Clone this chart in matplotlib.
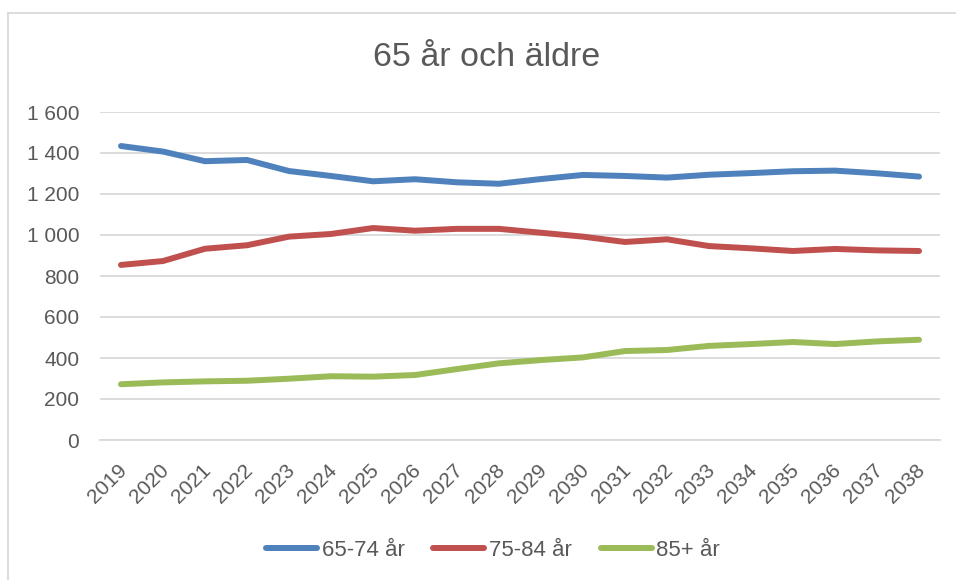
import matplotlib
matplotlib.use("Agg")
import matplotlib.pyplot as plt
from matplotlib.lines import Line2D
from matplotlib.ticker import FuncFormatter
import matplotlib.transforms as mtransforms

plt.rcParams['font.family'] = ['Liberation Sans', 'DejaVu Sans']

years = [str(y) for y in range(2019, 2039)]
s_65_74 = [1434, 1407, 1360, 1366, 1312, 1288, 1262, 1272, 1257, 1250,
           1273, 1293, 1288, 1280, 1294, 1302, 1311, 1314, 1301, 1285]
s_75_84 = [854, 873, 933, 950, 992, 1005, 1034, 1021, 1030, 1030,
           1011, 992, 966, 979, 946, 935, 922, 932, 925, 922]
s_85 = [272, 281, 286, 289, 299, 311, 309, 317, 346, 374,
        390, 403, 434, 439, 459, 468, 478, 468, 481, 489]
labels = ["65-74 år", "75-84 år", "85+ år"]
title = "65 år och äldre"

colors = ["#4F81BD", "#C0504D", "#9BBB59"]
text_color = "#595959"

fig = plt.figure(figsize=(9.56, 5.8), dpi=100)
ax = fig.add_axes([100/956, 1-440/580, 840/956, 328/580])

x = list(range(len(years)))
for vals, c, lab in zip([s_65_74, s_75_84, s_85], colors, labels):
    ax.plot(x, vals, color=c, lw=4.3, solid_capstyle='round', solid_joinstyle='round', label=lab)

ax.set_xlim(-0.5, len(years) - 0.5)
ax.set_ylim(0, 1600)
ax.set_yticks(range(0, 1601, 200))
ax.yaxis.set_major_formatter(FuncFormatter(lambda v, p: f"{int(v):,}".replace(",", " ")))
ax.grid(axis='y', color='#D9D9D9', lw=1.3)
ax.set_axisbelow(True)
for s in ['top', 'right', 'left']:
    ax.spines[s].set_visible(False)
ax.spines['bottom'].set_color('#D9D9D9')
ax.spines['bottom'].set_linewidth(1.3)
ax.set_xticks(x)
ax.set_xticklabels(years, rotation=45, ha='right', va='top', rotation_mode='anchor')
ax.tick_params(axis='both', length=0, colors=text_color, labelsize=15)
ax.tick_params(axis='y', pad=15)
ax.tick_params(axis='x', pad=15)
for t in ax.get_xticklabels():
    t.set_transform(t.get_transform() + mtransforms.ScaledTranslation(-4/100, 0, fig.dpi_scale_trans))

fig.text(487/956, 1-58/580, title, ha='center', va='center', fontsize=24.5, color=text_color)

handles = [Line2D([0], [0], color=c, lw=4.3, solid_capstyle='round') for c in colors]
fig.legend(handles, labels, loc='center', bbox_to_anchor=(493/956, 1-550/580), ncol=3, frameon=False,
           fontsize=16, labelcolor=text_color, handlelength=2.3, handletextpad=0.2, columnspacing=1.3)

# outer chart border (top and left visible)
fig.add_artist(Line2D([8/956, 8/956], [0, 1-13/580], transform=fig.transFigure, color='#D9D9D9', lw=1.3))
fig.add_artist(Line2D([8/956, 1], [1-13/580, 1-13/580], transform=fig.transFigure, color='#D9D9D9', lw=1.3))

fig.savefig("out.png", dpi=100)
